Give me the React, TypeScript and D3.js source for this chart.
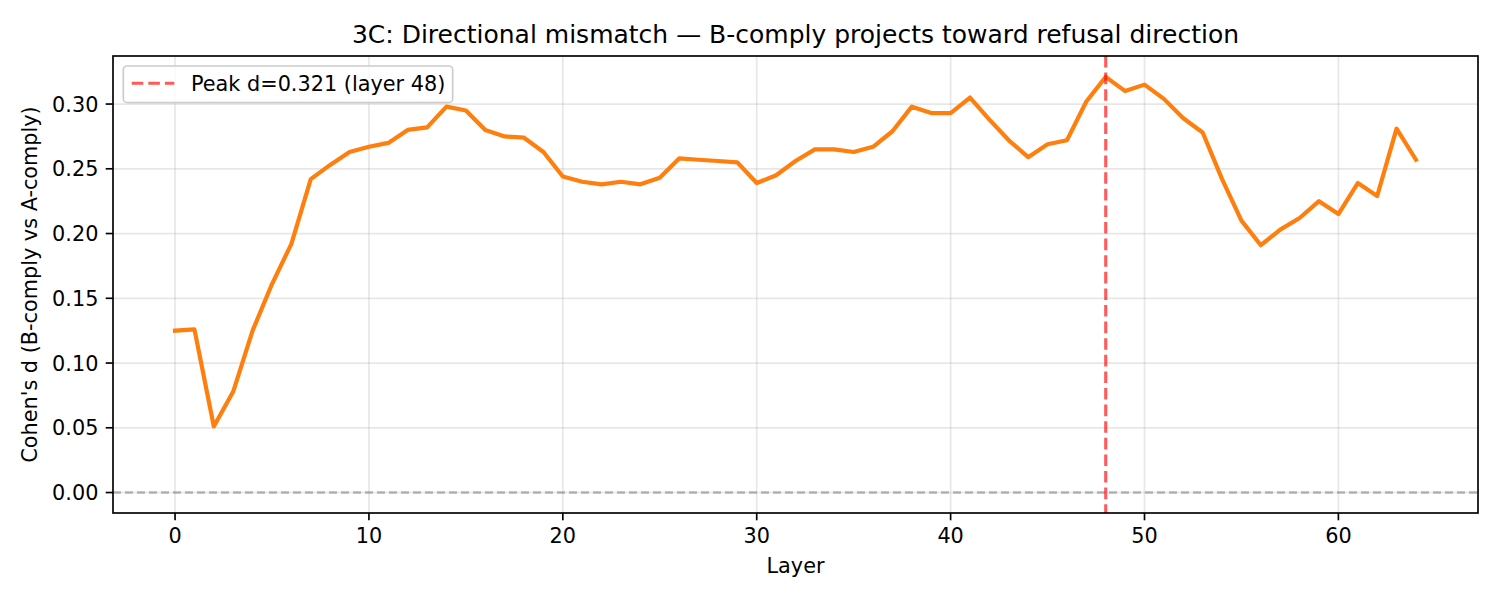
import React from 'react';
import * as d3 from 'd3';

const layers = d3.range(0, 65);
const cohensD = [
	0.125, 0.126, 0.051, 0.078, 0.125, 0.161, 0.192, 0.242, 0.253, 0.263,
	0.267, 0.270, 0.280, 0.282, 0.298, 0.295, 0.280, 0.275, 0.274, 0.263,
	0.244, 0.240, 0.238, 0.240, 0.238, 0.243, 0.258, 0.257, 0.256, 0.255,
	0.239, 0.245, 0.256, 0.265, 0.265, 0.263, 0.267, 0.279, 0.298, 0.293,
	0.293, 0.305, 0.288, 0.272, 0.259, 0.269, 0.272, 0.302, 0.321, 0.310,
	0.315, 0.304, 0.289, 0.278, 0.242, 0.210, 0.191, 0.203, 0.212, 0.225,
	0.215, 0.239, 0.229, 0.281, 0.257,
];
const peakLayer = 48;
const peakValue = 0.321;
const xTicks = [0, 10, 20, 30, 40, 50, 60];
const yTicks = [0, 0.05, 0.1, 0.15, 0.2, 0.25, 0.3];

const W = 1500;
const H = 600;
const FONT = '"DejaVu Sans", sans-serif';

export default function App() {
	const left = 113, right = 1478, top = 56, bottom = 513;
	const x = d3.scaleLinear().domain([-3.2, 67.2]).range([left, right]);
	const y = d3.scaleLinear().domain([-0.0158, 0.3371]).range([bottom, top]);

	const line = d3.line<number>()
		.x((d, i) => x(layers[i]))
		.y(d => y(d));

	return (
		<svg width={W} height={H} style={{position: 'absolute', left: 0, top: 0, background: '#fff'}}
			fontFamily={FONT}>
			<rect width={W} height={H} fill="#fff"/>
			{/* grid */}
			<g stroke="#b0b0b0" strokeOpacity={0.3} strokeWidth={1.67}>
				{xTicks.map(t => <line key={'gx' + t} x1={x(t)} x2={x(t)} y1={top} y2={bottom}/>)}
				{yTicks.map(t => <line key={'gy' + t} x1={left} x2={right} y1={y(t)} y2={y(t)}/>)}
			</g>
			{/* zero line */}
			<line x1={left} x2={right} y1={y(0)} y2={y(0)} stroke="#808080" strokeOpacity={0.55}
				strokeWidth={2.5} strokeDasharray="8,4"/>
			{/* data */}
			<path d={line(cohensD) || ''} fill="none" stroke="#ff7f0e" strokeWidth={4.2}
				strokeLinejoin="round" strokeLinecap="square"/>
			{/* peak marker */}
			<line x1={x(peakLayer)} x2={x(peakLayer)} y1={top} y2={bottom} stroke="red" strokeOpacity={0.65}
				strokeWidth={3.1} strokeDasharray="11.6,5"/>
			{/* spines */}
			<rect x={left} y={top} width={right - left} height={bottom - top} fill="none" stroke="#000"
				strokeWidth={1.67}/>
			{/* x ticks */}
			<g fontSize={20.8} fill="#000">
				{xTicks.map(t => (
					<g key={'xt' + t}>
						<line x1={x(t)} x2={x(t)} y1={bottom} y2={bottom + 7.3} stroke="#000" strokeWidth={1.67}/>
						<text x={x(t)} y={543} textAnchor="middle">{t}</text>
					</g>
				))}
				{yTicks.map(t => (
					<g key={'yt' + t}>
						<line x1={left - 7.3} x2={left} y1={y(t)} y2={y(t)} stroke="#000" strokeWidth={1.67}/>
						<text x={left - 14.6} y={y(t)} dy="0.36em" textAnchor="end">{d3.format('.2f')(t)}</text>
					</g>
				))}
			</g>
			{/* labels */}
			<text x={(left + right) / 2} y={573} textAnchor="middle" fontSize={20.8}>Layer</text>
			<text transform={`translate(37,${(top + bottom) / 2}) rotate(-90)`} textAnchor="middle" fontSize={20.8}>
				Cohen's d (B-comply vs A-comply)
			</text>
			<text x={(left + right) / 2} y={42.7} textAnchor="middle" fontSize={25}>
				3C: Directional mismatch — B-comply projects toward refusal direction
			</text>
			{/* legend */}
			<g>
				<rect x={123.3} y={66} width={329.4} height={36.7} rx={4} fill="#fff" fillOpacity={0.8}
					stroke="#cccccc" strokeWidth={1.67}/>
				<line x1={131.7} x2={174.3} y1={83.3} y2={83.3} stroke="red" strokeOpacity={0.65}
					strokeWidth={3.1} strokeDasharray="11.6,5"/>
				<text x={191} y={90.7} fontSize={20.8}>Peak d={peakValue} (layer {peakLayer})</text>
			</g>
		</svg>
	);
}
